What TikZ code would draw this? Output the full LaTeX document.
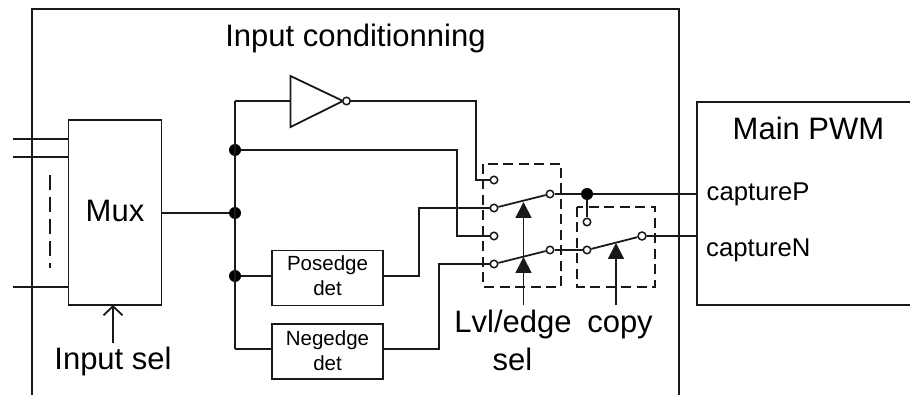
\documentclass[tikz,border=0pt]{standalone}
\usepackage{fontspec}
\setmainfont{Liberation Sans}
\usetikzlibrary{arrows.meta}
\tikzset{
  x=1pt,y=-1pt,
  wire/.style={draw=black!90,line width=1.8pt,line join=miter},
  blockbox/.style={draw=black!90,line width=1.8pt,inner sep=0pt,align=center},
  dot/.style={circle,fill=black,inner sep=0pt,minimum size=12pt},
  contact/.style={circle,draw=black!90,fill=white,line width=1.5pt,inner sep=0pt,minimum size=7.5pt},
  bigcontact/.style={circle,draw=black!90,fill=white,line width=1.5pt,inner sep=0pt,minimum size=8pt},
  guard/.style={draw=black!90,line width=1.8pt,dash pattern=on 10pt off 5.5pt},
  txt/.style={inner sep=0pt,anchor=base,font=\fontsize{31}{33}\selectfont,align=center},
  sm/.style={inner sep=0pt,font=\fontsize{25.7}{26}\selectfont,anchor=base west},
  small/.style={inner sep=0pt,anchor=base,font=\fontsize{20.5}{25}\selectfont},
  selarrow/.style={wire,-{Triangle[width=16pt,length=16pt]}},
  openarrow/.style={wire,-{Straight Barb[length=9pt,width=19pt,line width=1.8pt]}}
}
\begin{document}
\begin{tikzpicture}
\useasboundingbox (0,0) rectangle (910,395);
% outer frame
\coordinate (fbl) at (32,396); \coordinate (ftl) at (32,9);
\coordinate (ftr) at (679,9); \coordinate (fbr) at (679,396);
\draw[wire] (fbl) -- (ftl) -- (ftr) -- (fbr);
\node[txt] (title) at (355.5,47) {Input conditionning};
% main PWM (open at the right edge)
\coordinate (ptr) at (911,102); \coordinate (ptl) at (697,102);
\coordinate (pbl) at (697,305); \coordinate (pbr) at (911,305);
\draw[wire] (ptr) -- (ptl) -- (pbl) -- (pbr);
\node[txt] (pwmt) at (808.5,140) {Main PWM};
\node[sm] (cp) at (706.5,201) {captureP};
\node[sm] (cn) at (706,257) {captureN};
% mux
\node[blockbox,minimum width=93pt,minimum height=185pt] (mux) at (115,212.5) {};
\node[txt] (muxt) at (115,222) {Mux};
\coordinate (i1) at (13,139); \coordinate (i1e) at (68.5,139);
\coordinate (i2) at (13,157); \coordinate (i2e) at (68.5,157);
\coordinate (i3) at (13,287); \coordinate (i3e) at (68.5,287);
\draw[wire] (i1) -- (i1e); \draw[wire] (i2) -- (i2e); \draw[wire] (i3) -- (i3e);
\coordinate (d1) at (50,175); \coordinate (d2) at (50,268);
\draw[wire,dash pattern=on 15pt off 7pt] (d1) -- (d2);
\node[txt] (isel) at (113,369) {Input sel};
\coordinate (isela) at (113,343); \coordinate (iselb) at (113,305);
\draw[openarrow] (isela) -- (iselb);
% bus
\coordinate (bt) at (235,101); \coordinate (bb) at (235,349);
\node[dot] (n1) at (235,150) {};
\node[dot] (n2) at (235,213) {};
\node[dot] (n3) at (235,276) {};
\draw[wire] (bt) -- (bb);
\draw[wire] (mux.east |- n2) -- (n2);
% inverter
\coordinate (ta) at (290.5,76); \coordinate (tb) at (290.5,127); \coordinate (tc) at (343,101);
\draw[wire] (ta) -- (tb) -- (tc) -- cycle;
\draw[wire] (bt) -- (ta |- bt);
\node[contact,minimum size=7.5pt] (bub) at (346.5,101) {};
% edge detectors
\node[blockbox,minimum width=111pt,minimum height=55pt] (pos) at (327.5,278) {};
\node[small] (post) at (327.5,270.7) {Posedge};
\node[small] (posd) at (327.5,296) {det};
\node[blockbox,minimum width=111pt,minimum height=55pt] (neg) at (327.5,351.5) {};
\node[small] (negt) at (327.5,345) {Negedge};
\node[small] (negd) at (327.5,370) {det};
\draw[wire] (n3) -- (pos.west |- n3);
\draw[wire] (bb) -- (neg.west |- bb);
% dashed boxes
\coordinate (g1a) at (483,164); \coordinate (g1b) at (561,287);
\coordinate (g2a) at (577,207); \coordinate (g2b) at (655,287);
\draw[guard] (g1a) rectangle (g1b);
\draw[guard] (g2a) rectangle (g2b);
% contacts
\node[contact] (a1) at (494,180) {};
\node[contact] (a2) at (494,208) {};
\node[contact] (a3) at (494,236) {};
\node[contact] (a4) at (494,264) {};
\node[contact] (b1) at (550,194) {};
\node[contact] (b2) at (550,250) {};
\node[contact] (c1) at (587,222) {};
\node[contact] (c2) at (587,250) {};
\node[bigcontact] (c3) at (642,236) {};
\node[dot] (n4) at (587,194) {};
% routes
\coordinate (r1) at (476,101); \coordinate (r1b) at (476,180);
\draw[wire] (bub) -- (r1) -- (r1b) -- (a1);
\coordinate (r2) at (457,150); \coordinate (r2b) at (457,236);
\draw[wire] (n1) -- (r2) -- (r2b) -- (a3);
\coordinate (r3) at (419,276); \coordinate (r3b) at (419,208);
\draw[wire] (pos.east |- r3) -- (r3) -- (r3b) -- (a2);
\coordinate (r4) at (439,349); \coordinate (r4b) at (439,264);
\draw[wire] (neg.east |- r4) -- (r4) -- (r4b) -- (a4);
% switches
\draw[wire] (a2) -- (b1);
\draw[wire] (a4) -- (b2);
\draw[wire] (c2) -- (c3);
\draw[wire] (b1) -- (n4);
\draw[wire] (n4) -- (ptl |- n4);
\draw[wire] (n4) -- (c1);
\draw[wire] (b2) -- (c2);
\draw[wire] (c3) -- (ptl |- c3);
% selector arrows
\coordinate (s1) at (523.5,305); \coordinate (s1a) at (523.5,257); \coordinate (s1b) at (523.5,202);
\coordinate (s2) at (616,305); \coordinate (s2a) at (616,243);
\draw[selarrow] (s1) -- (s1a);
\draw[selarrow] (s1a) -- (s1b);
\draw[selarrow] (s2) -- (s2a);
\node[txt] (lvl) at (513,332) {Lvl/edge};
\node[txt] (sel) at (512.5,370) {sel};
\node[txt] (copy) at (620,332) {copy};
\end{tikzpicture}
\end{document}
